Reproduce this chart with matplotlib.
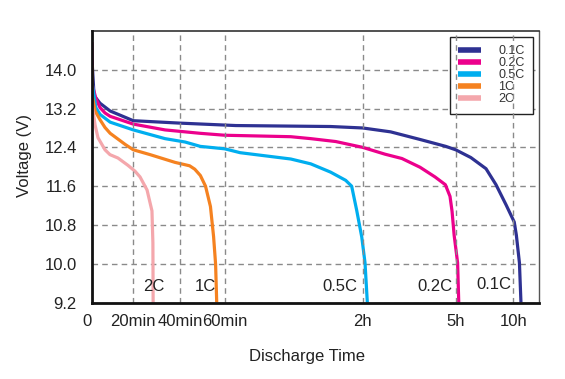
"""Battery discharge curves at different C-rates (voltage vs discharge time)."""

import matplotlib
matplotlib.use("Agg")
import matplotlib.pyplot as plt
import numpy as np
from matplotlib.transforms import ScaledTranslation

plt.rcParams["font.family"] = ["Liberation Sans", "DejaVu Sans"]

# discharge time in minutes, voltage in V
T_01C = [0, 1, 3.9, 8.8, 20, 40, 64.8, 106, 120, 174, 232, 281, 300, 379, 458, 510, 563, 605, 616, 632, 640]
V_01C = [14.21, 13.47, 13.31, 13.15, 12.95, 12.90, 12.85, 12.83, 12.80, 12.72, 12.56, 12.42, 12.35, 12.19,
         11.96, 11.63, 11.21, 10.86, 10.59, 10.02, 9.2]

T_02C = [0, 0.2, 1.9, 3.9, 6.3, 8.8, 20, 33.6, 49, 60, 88.7, 97.4, 108.3, 120, 163, 196, 231, 260, 280,
         289, 293, 297, 310, 316]
V_02C = [14.57, 13.68, 13.41, 13.22, 13.11, 13.04, 12.88, 12.76, 12.69, 12.65, 12.62, 12.58, 12.52, 12.40,
         12.26, 12.17, 11.99, 11.79, 11.63, 11.39, 11.08, 10.59, 10.02, 9.2]

T_05C = [0, 1.9, 3.9, 8.8, 20, 33.6, 42.3, 49.1, 60, 66.7, 88.7, 97.4, 106, 112.6, 115.2, 117.4, 119.6,
         124.5, 129]
V_05C = [13.75, 13.22, 13.08, 12.92, 12.76, 12.58, 12.51, 12.42, 12.37, 12.29, 12.16, 12.06, 11.89, 11.72,
         11.60, 11.10, 10.55, 10.02, 9.2]

T_1C = [0, 0.1, 1.5, 3.9, 6.3, 8.8, 16.1, 20, 27.2, 37.9, 44.3, 46.6, 49.1, 51.4, 53.6, 55, 55.9, 56.4]
V_1C = [14.1, 13.47, 13.15, 12.97, 12.81, 12.69, 12.46, 12.35, 12.25, 12.09, 12.02, 11.95, 11.82, 11.60,
        11.18, 10.56, 9.99, 9.2]

T_2C = [0, 1.5, 2.9, 6.3, 8.7, 12.6, 17.4, 20.7, 22.9, 25.9, 28.0, 28.4, 28.5]
V_2C = [13.3, 12.86, 12.60, 12.35, 12.25, 12.18, 12.03, 11.91, 11.79, 11.52, 11.09, 10.43, 9.2]

SERIES = [
    ("0.1C", T_01C, V_01C, "#2E3192"),
    ("0.2C", T_02C, V_02C, "#EC008C"),
    ("0.5C", T_05C, V_05C, "#00AEEF"),
    ("1C", T_1C, V_1C, "#F58220"),
    ("2C", T_2C, V_2C, "#F4A7AC"),
]

# tag under each curve end: (text, minutes, volts)
CURVE_TAGS = [("2C", 28.9, 9.37), ("1C", 51.4, 9.37), ("0.5C", 110, 9.37),
              ("0.2C", 259, 9.37), ("0.1C", 500, 9.41)]

X_TICKS = [0, 20, 40, 60, 120, 300, 600]
X_LABELS = ["0", "20min", "40min", "60min", "2h", "5h", "10h"]
Y_TICKS = [9.2, 10.0, 10.8, 11.6, 12.4, 13.2, 14.0]

# the time axis is stretched piecewise between the labelled times
SCALE_MIN = [0, 20, 40, 60, 120, 300, 600, 900]
SCALE_POS = [0, 41.3, 88, 132.8, 270.7, 363.7, 421.3, 478.9]


def forward(x):
    return np.interp(x, SCALE_MIN, SCALE_POS)


def inverse(p):
    return np.interp(p, SCALE_POS, SCALE_MIN)


def main() -> None:
    fig = plt.figure(figsize=(5.65, 3.79), dpi=100)
    ax = fig.add_axes([0.1628, 0.2018, 0.7912, 0.7164])
    ax.set_xscale("function", functions=(forward, inverse))

    for label, t, v, color in SERIES:
        ax.plot(t, v, color=color, lw=2.3, label=label, solid_capstyle="butt",
                solid_joinstyle="round", zorder=3)

    for text, t, v in CURVE_TAGS:
        ax.text(t, v, text, ha="center", va="bottom", fontsize=12, color="#222222", zorder=4)

    ax.set_xlim(0, 734)
    ax.set_ylim(9.2, 14.8)
    ax.set_xticks(X_TICKS, X_LABELS)
    ax.set_yticks(Y_TICKS, [f"{y:.1f}" for y in Y_TICKS])
    ax.tick_params(axis="both", length=0, labelsize=12, labelcolor="#222222")
    ax.tick_params(axis="y", pad=11)
    ax.tick_params(axis="x", pad=8)
    ax.minorticks_off()

    # the "0" sits a little left of the origin
    zero = ax.get_xticklabels()[0]
    zero.set_transform(zero.get_transform() + ScaledTranslation(-5 / 100, 0, fig.dpi_scale_trans))

    ax.grid(True, color="#8a8a8a", lw=1.0, ls=(0, (4, 3)))
    # vertical dashes run over the legend box, horizontal ones stay under it
    ax.xaxis.set_zorder(6)

    for side in ("left", "bottom"):
        ax.spines[side].set_linewidth(2.0)
        ax.spines[side].set_color("#111111")
        ax.spines[side].set_zorder(7)
    ax.spines["top"].set_linewidth(1.2)
    ax.spines["top"].set_color("#333333")
    ax.spines["right"].set_linewidth(1.0)
    ax.spines["right"].set_color("#555555")

    ax.set_ylabel("Voltage (V)", fontsize=12, color="#222222")
    ax.yaxis.set_label_coords(-0.135, 0.54)
    ax.set_xlabel("Discharge Time", fontsize=12, color="#222222")
    ax.xaxis.set_label_coords(0.482, -0.17)

    leg = ax.legend(loc="upper right", fontsize=9, frameon=True, fancybox=False,
                    edgecolor="#222222", framealpha=1, labelspacing=0.0,
                    handlelength=1.8, handletextpad=1.4, borderpad=0.7,
                    borderaxespad=0.45)
    leg.get_frame().set_linewidth(1.0)
    leg.set_zorder(5)
    for line in leg.get_lines():
        line.set_linewidth(4)
    for txt in leg.get_texts():
        txt.set_color("#333333")

    fig.savefig("out.png", dpi=100)
    plt.close(fig)


if __name__ == "__main__":
    main()
